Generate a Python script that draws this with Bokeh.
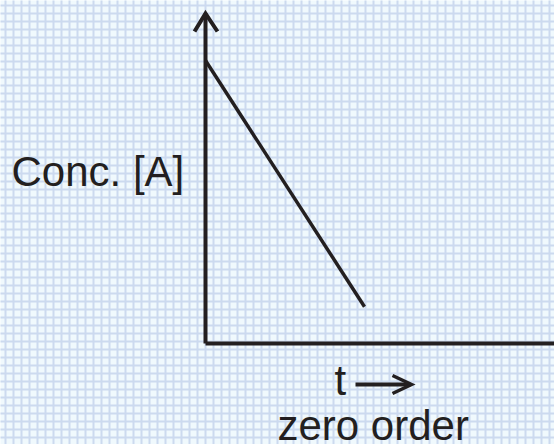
import numpy as np
from bokeh.plotting import figure
from bokeh.models import Range1d
from bokeh.core.properties import value
from bokeh.embed import file_html
from bokeh.resources import INLINE

# ---- data (zero-order kinetics sketch) ----
time = [0, 10]
conc = [10, 1.3]
x_label = "t"
y_label = "Conc. [A]"
caption = "zero order"

# ---- layout calibration (picture pixels) ----
W, H = 554, 444
ORIGIN_X, ORIGIN_Y = 205, 343
KX = (364 - 205) / 10.0  # px per time unit
KY = (343 - 60) / 10.0   # px per conc unit
TXT_SHIFT = 13           # compensate svg baseline offset


def fx(px):
    return (px - ORIGIN_X) / KX


def fy(py):
    return (ORIGIN_Y - py) / KY


INK = "#231f20"
BG = "#f0f9fd"
GRID = "#ccdaef"

p = figure(width=W, height=H,
           x_range=Range1d(fx(0), fx(W)),
           y_range=Range1d(fy(H), fy(0)),
           output_backend="svg", toolbar_location=None,
           x_axis_type=None, y_axis_type=None, min_border=0,
           outline_line_color=None,
           background_fill_color=BG, border_fill_color=BG)

# background graph-paper grid
gx = np.arange(5, 560, 8)
gy = np.arange(5, 450, 8)
p.segment(x0=[fx(v) for v in gx], y0=[fy(-5)] * len(gx),
          x1=[fx(v) for v in gx], y1=[fy(450)] * len(gx),
          line_color=GRID, line_width=2)
p.segment(x0=[fx(-5)] * len(gy), y0=[fy(v) for v in gy],
          x1=[fx(560)] * len(gy), y1=[fy(v) for v in gy],
          line_color=GRID, line_width=2)

# axes
p.line([0, 0], [0, fy(13)], line_color=INK, line_width=4)
p.line([0, fx(560)], [0, 0], line_color=INK, line_width=4)
p.line([fx(194), 0, fx(217)], [fy(31), fy(13), fy(31)],
       line_color=INK, line_width=4, line_join="miter")

# data line
p.line(time, conc, line_color=INK, line_width=3.5)

# labels
font = value("Liberation Sans")
for tx, ty, s in [(11, 184, y_label), (334, 393, x_label), (277, 438, caption)]:
    p.text(x=[fx(tx)], y=[fy(ty - TXT_SHIFT)], text=[s], text_font=font,
           text_font_size="42px", text_baseline="alphabetic",
           text_align="left", text_color=INK)

# arrow after t
p.line([fx(355), fx(410)], [fy(384), fy(384)], line_color=INK, line_width=4)
p.line([fx(392), fx(411), fx(392)], [fy(375), fy(384), fy(393)],
       line_color=INK, line_width=3.5, line_join="miter")

open("out.html", "w").write(file_html(p, INLINE))
